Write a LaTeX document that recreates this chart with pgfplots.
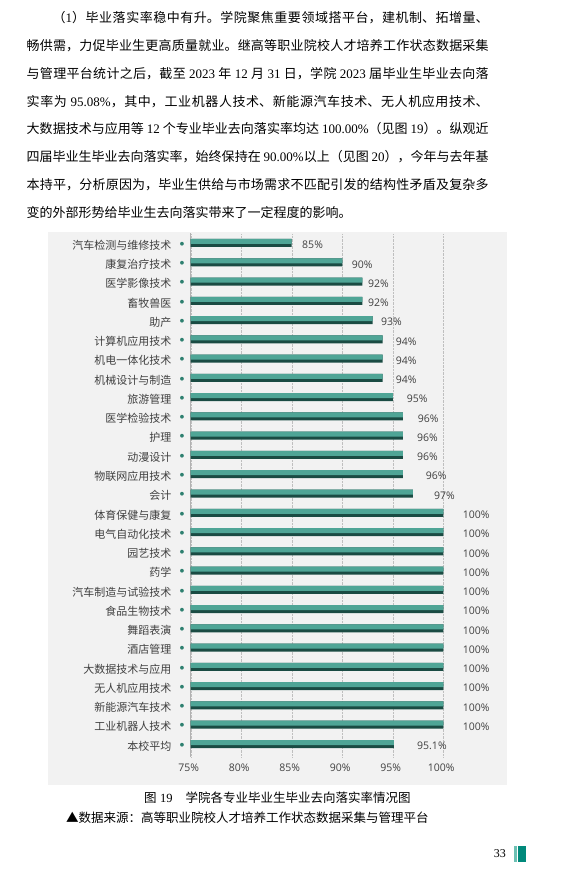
\documentclass[border=0pt]{standalone}
\usepackage{pgfplots}
\pgfplotsset{compat=1.18}
\usepackage{pgfplotstable}
\usepackage{fontspec}
\setmainfont{Liberation Serif}
\newfontfamily\cjk{Noto Sans CJK SC}
\newfontfamily\osans{Open Sans}
\newfontfamily\djv{DejaVu Sans}
\definecolor{barlight}{HTML}{4FA596}
\definecolor{bardark}{HTML}{1A4B43}
\definecolor{labgray}{HTML}{404040}
\definecolor{bggray}{HTML}{F2F2F2}
\definecolor{dotc}{HTML}{2E8070}
\definecolor{pteal}{HTML}{00897B}
\definecolor{plight}{HTML}{6CC0B3}
\newcommand\rn[1]{{\rmfamily #1}}
\newcommand\yl[1]{#1\hspace{8.5pt}\raisebox{4pt}{\color{dotc}\djv\fontsize{5}{5}\selectfont ●}}

\pgfplotstableread{
row val lab off
27 85 85 10.3
26 90 90 9.4
25 92 92 5.5
24 92 92 5.5
23 93 93 8.4
22 94 94 13
21 94 94 13
20 94 94 13
19 95 95 13.9
18 96 96 14.8
17 96 96 14.1
16 96 96 14.1
15 96 96 22.8
14 97 97 21
13 100 100 19.4
12 100 100 19.4
11 100 100 19.4
10 100 100 19.4
9 100 100 19.4
8 100 100 19.4
7 100 100 19.4
6 100 100 19.4
5 100 100 19.4
4 100 100 19.4
3 100 100 19.4
2 100 100 19.4
1 95.1 95.1 23.2
}\rates

\begin{document}
\begin{tikzpicture}[x=1pt,y=1pt]
\useasboundingbox (0,0) rectangle (563,876);
\fill[white] (0,0) rectangle (563,876);
% paragraph
\node[anchor=base west, inner sep=0pt] at (26.5,853.5) {\parbox[t]{462pt}{\cjk\fontsize{13}{27.85}\selectfont\XeTeXlinebreaklocale "zh"\XeTeXlinebreakskip=0pt plus 1pt\relax\tolerance=10000\noindent\hspace*{26pt}（\rn{1}）毕业落实率稳中有升。学院聚焦重要领域搭平台，建机制、拓增量、\linebreak 畅供需，力促毕业生更高质量就业。继高等职业院校人才培养工作状态数据采集\linebreak 与管理平台统计之后，截至 \rn{2023} 年 \rn{12} 月 \rn{31} 日，学院 \rn{2023} 届毕业生毕业去向落\linebreak 实率为 \rn{95.08\%}，其中，工业机器人技术、新能源汽车技术、无人机应用技术、\linebreak 大数据技术与应用等 \rn{12} 个专业毕业去向落实率均达 \rn{100.00\%}（见图 \rn{19}）。纵观近\linebreak 四届毕业生毕业去向落实率，始终保持在 \rn{90.00\%}以上（见图 \rn{20}），今年与去年基\linebreak 本持平，分析原因为，毕业生供给与市场需求不匹配引发的结构性矛盾及复杂多\linebreak 变的外部形势给毕业生去向落实带来了一定程度的影响。}};
% chart background
\fill[bggray] (48,91) rectangle (507,644);
\begin{axis}[
  at={(190.7pt,119pt)}, anchor=south west,
  scale only axis, width=252.6pt, height=523.5pt,
  xmin=75, xmax=100, ymin=0.43, ymax=27.597,
  axis lines*=left,
  x axis line style={draw=none},
  y axis line style={draw=black!30, line width=0.8pt},
  major tick length=0pt,
  xtick={75,80,85,90,95,100},
  xticklabels={75\%,80\%,85\%,90\%,95\%,100\%},
  xticklabel style={font=\osans\fontsize{10.5}{10.5}\selectfont, text=labgray, inner sep=0pt, anchor=north, yshift=-7pt, xshift=-2pt},
  ytick={1,...,27},
  yticklabels={\yl{本校平均},\yl{工业机器人技术},\yl{新能源汽车技术},\yl{无人机应用技术},\yl{大数据技术与应用},\yl{酒店管理},\yl{舞蹈表演},\yl{食品生物技术},\yl{汽车制造与试验技术},\yl{药学},\yl{园艺技术},\yl{电气自动化技术},\yl{体育保健与康复},\yl{会计},\yl{物联网应用技术},\yl{动漫设计},\yl{护理},\yl{医学检验技术},\yl{旅游管理},\yl{机械设计与制造},\yl{机电一体化技术},\yl{计算机应用技术},\yl{助产},\yl{畜牧兽医},\yl{医学影像技术},\yl{康复治疗技术},\yl{汽车检测与维修技术}},
  yticklabel style={font=\cjk\fontsize{11}{11}\selectfont, text=labgray, anchor=east, inner sep=0pt, xshift=-6.2pt},
  xmajorgrids, grid style={densely dotted, black!25},
]
\addplot[xbar, bar width=8pt, bar shift=2pt, fill=bardark, draw=none] table[x=val,y=row]{\rates};
\addplot[xbar, bar width=5pt, bar shift=3.5pt, fill=barlight, draw=none] table[x=val,y=row]{\rates};
\addplot[draw=none, point meta=explicit symbolic,
  visualization depends on={\thisrow{off} \as \off},
  nodes near coords={\pgfplotspointmeta\%},
  nodes near coords style={anchor=west, inner sep=0pt, xshift=\off pt, font=\osans\fontsize{10.5}{10.5}\selectfont, text=labgray}]
  table[x=val,y=row,meta=lab]{\rates};
\end{axis}
% caption
\node[anchor=base west, inner sep=0pt] at (144,73) {\cjk\fontsize{12.5}{12.5}\selectfont 图\hspace{3.5pt}\rn{19}\hspace{13pt}学院各专业毕业生毕业去向落实率情况图};
\node[anchor=base west, inner sep=0pt] at (66,53) {\cjk\fontsize{12.5}{12.5}\selectfont ▲数据来源：高等职业院校人才培养工作状态数据采集与管理平台};
% page number
\node[anchor=base east, inner sep=0pt] at (506,18.5) {\rmfamily\fontsize{12}{12}\selectfont 33};
\fill[plight] (514.3,14.3) rectangle (516.7,30);
\fill[pteal] (517.7,14.3) rectangle (526,30);
\end{tikzpicture}
\end{document}
